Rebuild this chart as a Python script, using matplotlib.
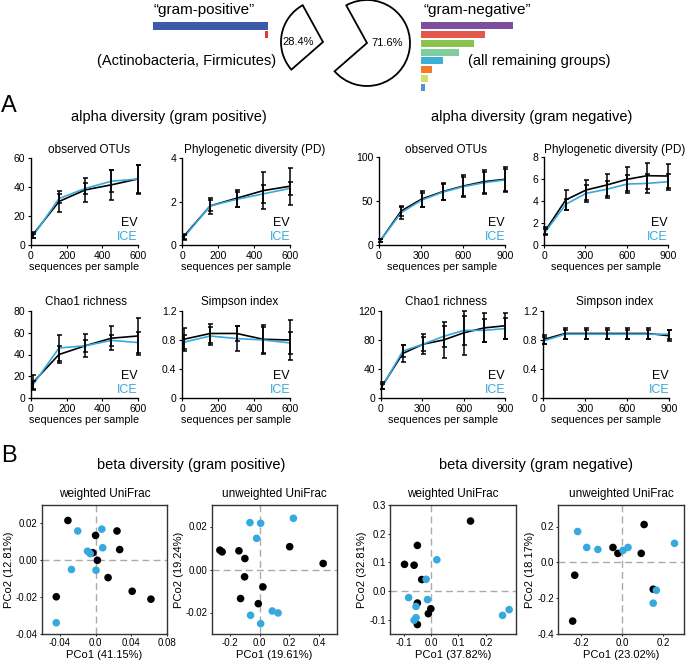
import matplotlib

matplotlib.use("Agg")
import matplotlib.pyplot as plt
from matplotlib.patches import Wedge

plt.rcParams["font.family"] = ["Liberation Sans", "DejaVu Sans"]

W, H = 686, 663
BLUE = "#38a9dc"

# ---- overview: share of reads ----
pos_share = 28.4
neg_share = 71.6
pos_abund = [27.7, 0.7]            # Actinobacteria, Firmicutes
pos_colors = ["#3b5ba9", "#e23a33"]
neg_abund = [22.2, 15.4, 12.8, 9.2, 5.3, 2.7, 1.7, 1.0]
neg_colors = ["#7e4e9e", "#e4584a", "#8cc34f", "#7fcd9b", "#3cb0d6", "#f47b2b", "#cfe06a", "#5b8fd6"]

# ---- alpha diversity (rarefaction) ----
pos_depth = [10, 157, 304, 451, 598]
neg_depth = [10, 158, 306, 454, 602, 750, 898]

pos_obs_ev = [7, 30, 38, 41.5, 45.5]
pos_obs_ev_sd = [2, 7.5, 8, 10.5, 10]
pos_obs_ice = [6, 32, 39, 44, 45.5]
pos_obs_ice_sd = [1.5, 3, 4, 7.5, 9.5]

pos_pd_ev = [0.4, 1.8, 2.15, 2.5, 2.7]
pos_pd_ev_sd = [0.12, 0.38, 0.4, 0.85, 0.85]
pos_pd_ice = [0.35, 1.8, 2.1, 2.35, 2.6]
pos_pd_ice_sd = [0.1, 0.25, 0.35, 0.4, 0.3]

pos_chao_ev = [14, 40, 48, 55, 57]
pos_chao_ev_sd = [7, 8, 10.5, 11, 17]
pos_chao_ice = [12, 46, 48, 53, 51]
pos_chao_ice_sd = [4, 12, 5.3, 5, 10]

pos_simp_ev = [0.81, 0.89, 0.89, 0.81, 0.80]
pos_simp_ev_sd = [0.16, 0.13, 0.10, 0.20, 0.27]
pos_simp_ice = [0.77, 0.855, 0.82, 0.80, 0.76]
pos_simp_ice_sd = [0.10, 0.12, 0.17, 0.18, 0.15]

neg_obs_ev = [5, 38.6, 52.3, 60.6, 67, 72, 74.6]
neg_obs_ev_sd = [2, 6, 9, 10, 12, 13.5, 14]
neg_obs_ice = [5, 36.7, 51.1, 60, 66.3, 70.8, 73.9]
neg_obs_ice_sd = [1.5, 7, 8, 9, 11, 12, 13]

neg_pd_ev = [1.3, 4.1, 5.0, 5.45, 5.97, 6.3, 6.27]
neg_pd_ev_sd = [0.3, 0.9, 0.9, 1.0, 1.1, 1.2, 1.1]
neg_pd_ice = [1.2, 3.7, 4.7, 5.06, 5.54, 5.6, 5.75]
neg_pd_ice_sd = [0.25, 0.5, 0.8, 0.8, 0.85, 0.85, 0.75]

neg_chao_ev = [17, 61.4, 74.3, 80, 90, 96.7, 99.6]
neg_chao_ev_sd = [5, 12, 14, 25, 30, 20, 18]
neg_chao_ice = [16, 64.7, 74.3, 85, 93.3, 93.3, 95.7]
neg_chao_ice_sd = [4, 8, 10, 15, 20, 16, 14]

neg_simp_ev = [0.81, 0.89, 0.89, 0.89, 0.89, 0.89, 0.86]
neg_simp_ev_sd = [0.06, 0.07, 0.07, 0.07, 0.07, 0.07, 0.08]
neg_simp_ice = [0.79, 0.88, 0.88, 0.88, 0.88, 0.88, 0.88]
neg_simp_ice_sd = [0.05, 0.06, 0.06, 0.06, 0.06, 0.06, 0.06]

# ---- beta diversity (PCoA) ----
wpos_ev_x = [-0.031, 0.0, 0.024, 0.027, -0.003, 0.002, 0.014, 0.041, 0.062, -0.044]
wpos_ev_y = [0.0216, 0.0135, 0.0159, 0.0058, 0.0041, 0.0, -0.0094, -0.0168, -0.0211, -0.0198]
wpos_ice_x = [-0.020, 0.007, 0.008, -0.009, -0.006, -0.027, 0.0005, -0.044]
wpos_ice_y = [0.0159, 0.0169, 0.0068, 0.0049, 0.0036, -0.005, -0.0054, -0.0339]

upos_ev_x = [-0.267, -0.252, -0.139, -0.099, 0.202, 0.427, -0.101, 0.022, -0.128, -0.009]
upos_ev_y = [0.009, 0.0082, 0.0087, 0.0051, 0.0106, 0.0028, -0.0034, -0.0081, -0.0135, -0.0159]
upos_ice_x = [-0.065, 0.007, -0.020, 0.227, 0.085, 0.124, -0.061, 0.007]
upos_ice_y = [0.0218, 0.0215, 0.0145, 0.0238, -0.0193, -0.0202, -0.0213, -0.0252]

wneg_ev_x = [0.144, -0.050, -0.097, -0.062, -0.034, -0.050, -0.001, -0.010, -0.050]
wneg_ev_y = [0.244, 0.159, 0.093, 0.090, 0.040, -0.042, -0.062, -0.079, -0.117]
wneg_ice_x = [0.021, -0.018, -0.082, -0.013, -0.055, -0.055, -0.062, 0.285, 0.261]
wneg_ice_y = [0.109, 0.041, -0.023, -0.030, -0.054, -0.093, -0.102, -0.065, -0.085]

uneg_ev_x = [0.107, -0.044, -0.020, 0.093, -0.229, 0.151, -0.239]
uneg_ev_y = [0.211, 0.083, 0.050, 0.050, -0.072, -0.150, -0.328]
uneg_ice_x = [-0.215, -0.171, -0.117, 0.005, 0.029, 0.254, 0.151, 0.166]
uneg_ice_y = [0.172, 0.083, 0.072, 0.067, 0.083, 0.106, -0.228, -0.156]


def px_axes(fig, left, top, right, bottom):
    return fig.add_axes([left / W, 1 - bottom / H, (right - left) / W, (bottom - top) / H])


def ftext(fig, x, y, s, **kw):
    fig.text(x / W, 1 - y / H, s, **kw)


def alpha_panel(ax, depth, ev, ev_sd, ice, ice_sd, xticks, yticks, ylabels):
    ax.plot(depth, ev, color="black", lw=1.2, zorder=3)
    ax.plot(depth, ice, color=BLUE, lw=1.2, zorder=3)
    for vals, sd in ((ev, ev_sd), (ice, ice_sd)):
        cont = ax.errorbar(depth, vals, yerr=sd, fmt="none", ecolor="black",
                           elinewidth=1.1, capsize=1.8, capthick=1.1, zorder=4)
        for art in list(cont.lines[1]) + list(cont.lines[2]):
            art.set_clip_on(False)
    ax.set_xlim(0, xticks[-1])
    ax.set_ylim(yticks[0], yticks[-1])
    ax.set_xticks(xticks)
    ax.set_yticks(yticks)
    ax.set_yticklabels(ylabels)
    for side in ("top", "right"):
        ax.spines[side].set_visible(False)
    for side in ("left", "bottom"):
        ax.spines[side].set_linewidth(1.0)
    ax.tick_params(direction="out", length=2.5, width=0.8, labelsize=7.5, pad=1.5)
    ax.set_xlabel("sequences per sample", fontsize=7.8, labelpad=1)
    ax.text(1.0, 0.25, "EV", transform=ax.transAxes, ha="right", va="center", fontsize=9, color="black")
    ax.text(1.0, 0.09, "ICE", transform=ax.transAxes, ha="right", va="center", fontsize=9, color=BLUE)


def beta_panel(ax, ev_x, ev_y, ice_x, ice_y, xlim, ylim, xticks, xlabels, yticks, ylabels,
               title, xlabel, ylabel):
    ax.axvline(0, color="#aaaaaa", lw=1.0, ls=(0, (5, 3)), zorder=1)
    ax.axhline(0, color="#aaaaaa", lw=1.0, ls=(0, (5, 3)), zorder=1)
    ax.scatter(ev_x, ev_y, s=30, color="black", edgecolors="none", zorder=3)
    ax.scatter(ice_x, ice_y, s=30, color=BLUE, edgecolors="none", zorder=3)
    ax.set_xlim(*xlim)
    ax.set_ylim(*ylim)
    ax.set_xticks(xticks)
    ax.set_xticklabels(xlabels)
    ax.set_yticks(yticks)
    ax.set_yticklabels(ylabels)
    for sp in ax.spines.values():
        sp.set_linewidth(1.0)
        sp.set_color("#333333")
    ax.tick_params(direction="out", length=1.5, width=0.6, labelsize=7, pad=1.5)
    ax.set_title(title, fontsize=8.5, pad=6)
    ax.set_xlabel(xlabel, fontsize=8, labelpad=1)
    ax.set_ylabel(ylabel, fontsize=8, labelpad=1.5)


fig = plt.figure(figsize=(W / 100, H / 100), dpi=100)

# ---- overview bars and pie ----
ax = px_axes(fig, 152, 21.5, 268, 39)
ax.barh(range(len(pos_abund)), pos_abund, height=0.85, color=pos_colors)
ax.set_xlim(28, 0)
ax.set_ylim(len(pos_abund) - 0.5, -0.5)
ax.axis("off")

ax = px_axes(fig, 421, 21.5, 537, 91.5)
ax.barh(range(len(neg_abund)), neg_abund, height=0.78, color=neg_colors)
ax.set_xlim(0, 28)
ax.set_ylim(len(neg_abund) - 0.5, -0.5)
ax.axis("off")

ax = px_axes(fig, 270, -5, 420, 95)
ax.set_xlim(270, 420)
ax.set_ylim(-95, 5)
ax.axis("off")
half = pos_share * 3.6 / 2
gap_dir = 170
ax.add_patch(Wedge((323, -42), 42, gap_dir - half, gap_dir + half,
                   facecolor="white", edgecolor="black", lw=1.3))
ax.add_patch(Wedge((367, -43), 43, gap_dir + half, gap_dir + 360 - half,
                   facecolor="white", edgecolor="black", lw=1.3))
ax.text(298, -42, f"{pos_share}%", ha="center", va="center", fontsize=8)
ax.text(387, -43, f"{neg_share}%", ha="center", va="center", fontsize=8)

ftext(fig, 153, 10, "\u201cgram-positive\u201d", fontsize=11, ha="left", va="center")
ftext(fig, 423, 10, "\u201cgram-negative\u201d", fontsize=11, ha="left", va="center")
ftext(fig, 276, 61, "(Actinobacteria, Firmicutes)", fontsize=10.5, ha="right", va="center")
ftext(fig, 468, 61, "(all remaining groups)", fontsize=10.5, ha="left", va="center")

# ---- panel A ----
ftext(fig, 1, 106, "A", fontsize=17, ha="left", va="center")
ftext(fig, 169, 117, "alpha diversity (gram positive)", fontsize=10.5, ha="center", va="center")
ftext(fig, 532, 117, "alpha diversity (gram negative)", fontsize=10.5, ha="center", va="center")

pos_x = [0, 200, 400, 600]
neg_x = [0, 300, 600, 900]

ax = px_axes(fig, 31, 158, 138, 245)
alpha_panel(ax, pos_depth, pos_obs_ev, pos_obs_ev_sd, pos_obs_ice, pos_obs_ice_sd,
            pos_x, [0, 20, 40, 60], ["0", "20", "40", "60"])
ftext(fig, 89, 150, "observed OTUs", fontsize=8.5, ha="center", va="center")

ax = px_axes(fig, 182, 158, 290, 245)
alpha_panel(ax, pos_depth, pos_pd_ev, pos_pd_ev_sd, pos_pd_ice, pos_pd_ice_sd,
            pos_x, [0, 2, 4], ["0", "2", "4"])
ftext(fig, 255, 150, "Phylogenetic diversity (PD)", fontsize=8.5, ha="center", va="center")

ax = px_axes(fig, 31, 311, 138, 398)
alpha_panel(ax, pos_depth, pos_chao_ev, pos_chao_ev_sd, pos_chao_ice, pos_chao_ice_sd,
            pos_x, [0, 20, 40, 60, 80], ["0", "20", "40", "60", "80"])
ftext(fig, 86, 302, "Chao1 richness", fontsize=8.5, ha="center", va="center")

ax = px_axes(fig, 182, 311, 290, 398)
alpha_panel(ax, pos_depth, pos_simp_ev, pos_simp_ev_sd, pos_simp_ice, pos_simp_ice_sd,
            pos_x, [0, 0.4, 0.8, 1.2], ["0", "0.4", "0.8", "1.2"])
ftext(fig, 240, 302, "Simpson index", fontsize=8.5, ha="center", va="center")

ax = px_axes(fig, 379, 157, 505, 245)
alpha_panel(ax, neg_depth, neg_obs_ev, neg_obs_ev_sd, neg_obs_ice, neg_obs_ice_sd,
            neg_x, [0, 50, 100], ["0", "50", "100"])
ftext(fig, 446, 150, "observed OTUs", fontsize=8.5, ha="center", va="center")

ax = px_axes(fig, 544, 157, 668, 245)
alpha_panel(ax, neg_depth, neg_pd_ev, neg_pd_ev_sd, neg_pd_ice, neg_pd_ice_sd,
            neg_x, [0, 2, 4, 6, 8], ["0", "2", "4", "6", "8"])
ftext(fig, 615, 150, "Phylogenetic diversity (PD)", fontsize=8.5, ha="center", va="center")

ax = px_axes(fig, 381, 311, 505, 398)
alpha_panel(ax, neg_depth, neg_chao_ev, neg_chao_ev_sd, neg_chao_ice, neg_chao_ice_sd,
            neg_x, [0, 40, 80, 120], ["0", "40", "80", "120"])
ftext(fig, 446, 302, "Chao1 richness", fontsize=8.5, ha="center", va="center")

ax = px_axes(fig, 543, 311, 669, 398)
alpha_panel(ax, neg_depth, neg_simp_ev, neg_simp_ev_sd, neg_simp_ice, neg_simp_ice_sd,
            neg_x, [0, 0.4, 0.8, 1.2], ["0", "0.4", "0.8", "1.2"])
ftext(fig, 615, 302, "Simpson index", fontsize=8.5, ha="center", va="center")

# ---- panel B ----
ftext(fig, 1, 456, "B", fontsize=17, ha="left", va="center")
ftext(fig, 191, 465, "beta diversity (gram positive)", fontsize=10.5, ha="center", va="center")
ftext(fig, 536, 465, "beta diversity (gram negative)", fontsize=10.5, ha="center", va="center")

ax = px_axes(fig, 42, 505, 167, 634)
beta_panel(ax, wpos_ev_x, wpos_ev_y, wpos_ice_x, wpos_ice_y, (-0.06, 0.08), (-0.04, 0.03),
           [-0.04, 0.0, 0.04, 0.08], ["-0.04", "0.0", "0.04", "0.08"],
           [-0.04, -0.02, 0.0, 0.02], ["-0.04", "-0.02", "0.00", "0.02"],
           "weighted UniFrac", "PCo1 (41.15%)", "PCo2 (12.81%)")

ax = px_axes(fig, 212, 505, 337, 634)
beta_panel(ax, upos_ev_x, upos_ev_y, upos_ice_x, upos_ice_y, (-0.32, 0.52), (-0.03, 0.03),
           [-0.2, 0.0, 0.2, 0.4], ["-0.2", "0.0", "0.2", "0.4"],
           [-0.02, 0.0, 0.02], ["-0.02", "0.00", "0.02"],
           "unweighted UniFrac", "PCo1 (19.61%)", "PCo2 (19.24%)")

ax = px_axes(fig, 390, 505, 516, 634)
beta_panel(ax, wneg_ev_x, wneg_ev_y, wneg_ice_x, wneg_ice_y, (-0.15, 0.31), (-0.15, 0.3),
           [-0.1, 0.0, 0.1, 0.2], ["-0.1", "0.0", "0.1", "0.2"],
           [-0.1, 0.0, 0.1, 0.2, 0.3], ["-0.1", "0.0", "0.1", "0.2", "0.3"],
           "weighted UniFrac", "PCo1 (37.82%)", "PCo2 (32.81%)")

ax = px_axes(fig, 558, 505, 684, 634)
beta_panel(ax, uneg_ev_x, uneg_ev_y, uneg_ice_x, uneg_ice_y, (-0.31, 0.30), (-0.4, 0.32),
           [-0.2, 0.0, 0.2], ["-0.2", "0.0", "0.2"],
           [-0.4, -0.2, 0.0, 0.2], ["-0.4", "-0.2", "0.0", "0.2"],
           "unweighted UniFrac", "PCo1 (23.02%)", "PCo2 (18.17%)")

fig.savefig("out.png", dpi=100)
